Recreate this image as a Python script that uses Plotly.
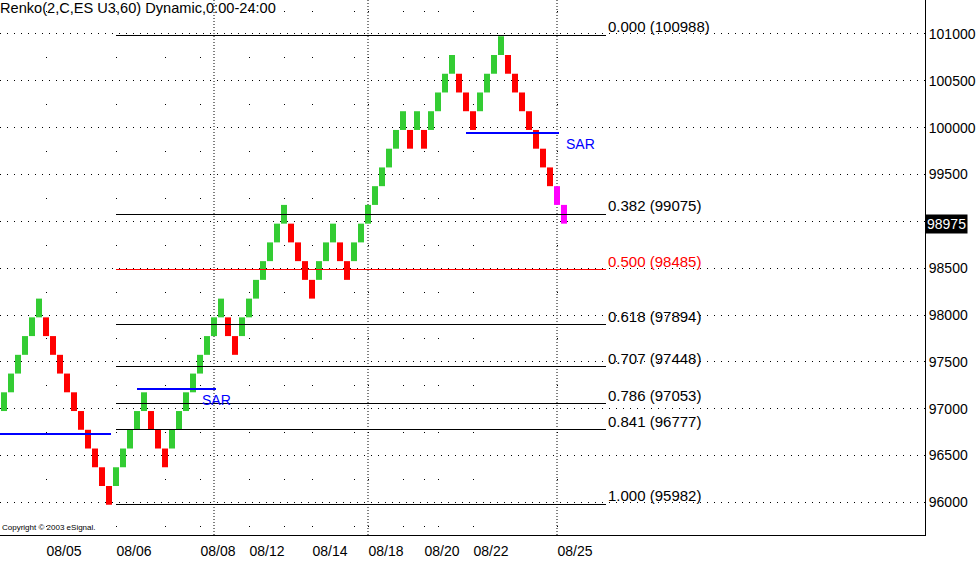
import plotly.graph_objects as go

# ---------------- data ----------------
# Renko bricks, one per column left to right: bottom price of each brick
brick_bottom = [
    96975, 97175, 97375, 97575, 97775, 97975,
    97775, 97575, 97375, 97175, 96975, 96775, 96575, 96375, 96175, 95975,
    96175, 96375, 96575, 96775, 96975,
    96775, 96575, 96375,
    96575, 96775, 96975, 97175, 97375, 97575, 97775, 97975,
    97775, 97575,
    97775, 97975, 98175, 98375, 98575, 98775, 98975,
    98775, 98575, 98375, 98175,
    98375, 98575, 98775,
    98575, 98375,
    98575, 98775, 98975, 99175, 99375, 99575, 99775, 99975,
    99775, 99975, 99775,
    99975, 100175, 100375, 100575,
    100375, 100175, 99975,
    100175, 100375, 100575, 100775,
    100575, 100375, 100175, 99975, 99775, 99575, 99375,
    99175, 98975,
]
# U = up brick, D = down brick, P = current (pending) brick
brick_kind = list(
    "UUUUUU" "DDDDDDDDDD" "UUUUU" "DDD" "UUUUUUUU" "DD" "UUUUUUU" "DDDD"
    "UUU" "DD" "UUUUUUUU" "D" "U" "D" "UUUU" "DDD" "UUUU" "DDDDDDD" "PP"
)
brick_size = 200
brick_col = list(range(len(brick_bottom)))

fib_ratio = ["0.000", "0.382", "0.500", "0.618", "0.707", "0.786", "0.841", "1.000"]
fib_price = [100988, 99075, 98485, 97894, 97448, 97053, 96777, 95982]

sar_price = [96727, 97212, 99945]
sar_from = [-0.6, 19, 66]
sar_to = [15.3, 30.3, 79.3]

date_tick_col = [6, 16, 23, 28, 35, 40, 44, 50, 52, 57, 60, 62, 67, 79]
date_tick_text = ["08/05", "08/06", "", "08/08", "08/12", "", "08/14", "",
                  "08/18", "", "08/20", "", "08/22", "08/25"]
week_sep_col = [30, 52, 79]

price_ticks = [96000, 96500, 97000, 97500, 98000, 98500,
               99000, 99500, 100000, 100500, 101000]
price_tick_text = ["96000", "96500", "97000", "97500", "98000", "98500",
                   "", "99500", "100000", "100500", "101000"]
last_price = 98975

title_text = "Renko(2,C,ES U3,60) Dynamic,0:00-24:00"
copyright_text = "Copyright © 2003 eSignal."

# ---------------- styling ----------------
FONT = "Liberation Sans"
kind_color = {"U": "#33cc33", "D": "#ff0000", "P": "#ff00ff"}
fib_color = {"0.500": "#ff0000"}
SAR_BLUE = "#0000ff"
fib_x0, fib_x1 = 16, 86
sar_label_col = [None, 28, 80]

fig = go.Figure()

for r, p in zip(fib_ratio, fib_price):
    fig.add_trace(go.Scatter(
        x=[fib_x0, fib_x1], y=[p, p], mode="lines",
        line=dict(color=fib_color.get(r, "#000000"), width=1),
        hoverinfo="skip", showlegend=False))

for p, a, b in zip(sar_price, sar_from, sar_to):
    fig.add_trace(go.Scatter(
        x=[a, b], y=[p, p], mode="lines",
        line=dict(color=SAR_BLUE, width=2),
        hoverinfo="skip", showlegend=False))

fig.add_trace(go.Bar(
    x=brick_col, y=[brick_size] * len(brick_bottom), base=brick_bottom,
    width=6 / 7,
    marker=dict(color=[kind_color[k] for k in brick_kind], line=dict(width=0)),
    hoverinfo="skip", showlegend=False))

annotations = []
for r, p in zip(fib_ratio, fib_price):
    annotations.append(dict(
        x=fib_x1, y=p, xref="x", yref="y", text=f"{r} ({p})",
        showarrow=False, xanchor="left", yanchor="bottom", xshift=0, yshift=-2,
        font=dict(family=FONT, size=15, color=fib_color.get(r, "#000000"))))
for p, c in zip(sar_price, sar_label_col):
    if c is None:
        continue
    annotations.append(dict(
        x=c, y=p, xref="x", yref="y", text="SAR", showarrow=False,
        xanchor="left", yanchor="top", yshift=-1,
        font=dict(family=FONT, size=14, color=SAR_BLUE)))
annotations.append(dict(
    x=0, y=1, xref="paper", yref="paper", text=title_text, showarrow=False,
    xanchor="left", yanchor="top", xshift=-2, yshift=2,
    font=dict(family=FONT, size=14.6, color="#000000")))
annotations.append(dict(
    x=0, y=0, xref="paper", yref="paper", text=copyright_text, showarrow=False,
    xanchor="left", yanchor="bottom", yshift=1,
    font=dict(family=FONT, size=8, color="#000000")))
annotations.append(dict(
    x=1, y=last_price, xref="paper", yref="y", text=str(last_price),
    showarrow=False, xanchor="left", yanchor="middle", xshift=0,
    bgcolor="#000000", borderpad=1,
    font=dict(family=FONT, size=14, color="#ffffff")))

shapes = [dict(type="line", xref="x", yref="paper", x0=c, x1=c, y0=0, y1=1,
               layer="below", line=dict(color="#000000", width=1, dash="1px,2px"))
          for c in week_sep_col]

fig.update_layout(
    width=977, height=567, autosize=False,
    margin=dict(l=0, r=52, t=0, b=32, pad=0),
    paper_bgcolor="#ffffff", plot_bgcolor="#ffffff",
    font=dict(family=FONT, size=14, color="#000000"),
    showlegend=False, annotations=annotations, shapes=shapes,
    xaxis=dict(
        range=[-0.571, 131.57], tickmode="array",
        tickvals=date_tick_col, ticktext=date_tick_text,
        showgrid=True, gridcolor="#000000", gridwidth=1,
        griddash="0px,10.5px,1px,35.35px",
        showline=True, linecolor="#000000", linewidth=1,
        ticks="", zeroline=False, ticklabelshift=18, ticklabelstandoff=3,
        tickfont=dict(family=FONT, size=14, color="#000000"),
        fixedrange=True),
    yaxis=dict(
        side="right", range=[95652, 101362], tickmode="array",
        tickvals=price_ticks, ticktext=price_tick_text,
        showgrid=True, gridcolor="#000000", gridwidth=1, griddash="1px,6px",
        showline=True, linecolor="#000000", linewidth=1,
        ticks="", zeroline=False,
        tickfont=dict(family=FONT, size=14, color="#000000"),
        fixedrange=True),
)

fig.write_html(
    "out.html",
    config={"displayModeBar": False},
    post_script=(
        "document.body.style.margin='0';document.body.style.overflow='hidden';"
        "document.querySelectorAll('.scatterlayer path.js-line').forEach("
        "function(p){p.style.shapeRendering='crispEdges';});"
    ),
)
